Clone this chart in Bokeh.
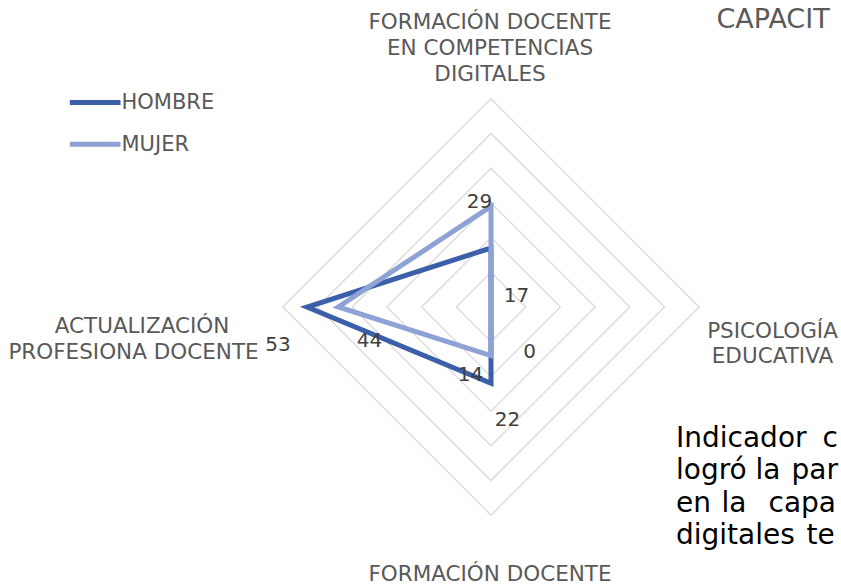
import math
from bokeh.plotting import figure
from bokeh.models import ColumnDataSource, Range1d
from bokeh.core.properties import value
from bokeh.embed import file_html
from bokeh.resources import INLINE

# ---------------- data ----------------
categories = [
    "FORMACIÓN DOCENTE EN COMPETENCIAS DIGITALES",
    "PSICOLOGÍA EDUCATIVA",
    "FORMACIÓN DOCENTE",
    "ACTUALIZACIÓN PROFESIONA DOCENTE",
]
category_label_lines = [
    ["FORMACIÓN DOCENTE", "EN COMPETENCIAS", "DIGITALES"],
    ["PSICOLOGÍA", "EDUCATIVA"],
    ["FORMACIÓN DOCENTE"],
    ["ACTUALIZACIÓN", "PROFESIONA DOCENTE"],
]
series_names = ["HOMBRE", "MUJER"]
hombre = [17, 0, 22, 53]
mujer = [29, 0, 14, 44]
ring_values = [10, 20, 30, 40, 50, 60]
title_text = "CAPACIT"
body_lines = [
    ["Indicador", "c"],
    ["logró", "la", "par"],
    ["en", "la", "capa"],
    ["digitales", "te"],
]

# ---------------- layout / style ----------------
W, H = 841, 586
PAGE = 0
CX, CY = 490.5, 306.5        # centre of radar in page pixels
S = 3.47                     # pixels per unit
FONT = "DejaVu Sans"
COL_H = "#3C5FA9"
COL_M = "#8FA2D6"
GRID = "#D9D9D9"
AXIS_TXT = "#595959"
LBL_TXT = "#404040"
K = 0.32                     # baseline correction (fraction of font size)


def d(X, Y, fs=0.0):
    return ((X - CX) / S, (CY - (Y - K * fs)) / S)


p = figure(width=W, height=H,
           x_range=Range1d((PAGE - CX) / S, (PAGE + W - CX) / S),
           y_range=Range1d((CY - PAGE - H) / S, (CY - PAGE) / S),
           output_backend="svg", toolbar_location=None, min_border=0,
           x_axis_location=None, y_axis_location=None)
p.grid.visible = False
p.outline_line_color = None
p.background_fill_color = "white"
p.border_fill_color = "white"

n = len(categories)
angles = [math.radians(90 - i * 360.0 / n) for i in range(n)]

# grid rings
xs, ys = [], []
for r in ring_values:
    xs.append([r * math.cos(a) for a in angles])
    ys.append([r * math.sin(a) for a in angles])
p.patches(xs, ys, fill_color=None, line_color=GRID, line_width=1.3, line_join="miter")

# series
series = {"HOMBRE": (hombre, COL_H), "MUJER": (mujer, COL_M)}
pts = {}
for name in series_names:
    vals, col = series[name]
    px_ = [v * math.cos(a) for v, a in zip(vals, angles)]
    py_ = [v * math.sin(a) for v, a in zip(vals, angles)]
    pts[name] = (px_, py_)
    p.patch(px_, py_, fill_color=None, line_color=col, line_width=5, line_join="miter")

# data labels (offsets in screen px from the data point to label baseline-centre)
LBL_FS = 20
label_offsets = {
    ("HOMBRE", 0): (25.5, 53.2), ("HOMBRE", 1): (38.5, 50.2),
    ("HOMBRE", 2): (16.5, 42.2), ("HOMBRE", 3): (-29.1, 43.5),
    ("MUJER", 0): (-11.5, 0.8), ("MUJER", 2): (-20.5, 24.9),
    ("MUJER", 3): (31.2, 39.5),
}
lx, ly, lt, ldx, ldy = [], [], [], [], []
for name in series_names:
    vals = series[name][0]
    for i, v in enumerate(vals):
        if (name, i) not in label_offsets:
            continue
        ox, oy = label_offsets[(name, i)]
        lx.append(pts[name][0][i]); ly.append(pts[name][1][i])
        lt.append(str(v)); ldx.append(ox); ldy.append(oy - K * LBL_FS)
p.text(x="x", y="y", text="t", x_offset="dx", y_offset="dy",
       source=ColumnDataSource(dict(x=lx, y=ly, t=lt, dx=ldx, dy=ldy)),
       text_font=value(FONT), text_font_size=f"{LBL_FS}px", text_color=LBL_TXT,
       text_align="center", text_baseline="alphabetic")

# category labels
CAT_FS = 21.5
cat_pos = [
    [(489.5, 27.5), (489.5, 53.5), (489.5, 79.5)],
    [(772, 337), (772, 362)],
    [(489.5, 580)],
    [(141.5, 332), (133, 358)],
]
cx_, cy_, ct_ = [], [], []
for lines, poss in zip(category_label_lines, cat_pos):
    for t, (X, Y) in zip(lines, poss):
        x, y = d(X, Y, CAT_FS)
        cx_.append(x); cy_.append(y); ct_.append(t)
p.text(x=cx_, y=cy_, text=ct_, text_font=value(FONT), text_font_size=f"{CAT_FS}px",
       text_color=AXIS_TXT, text_align="center", text_baseline="alphabetic")

# legend (manual, Excel style)
LEG_FS = 21
leg_y = [102, 143.7]
leg_base = [108.5, 150.5]
for name, yl, yb in zip(series_names, leg_y, leg_base):
    x0, y0 = d(69.3, yl)
    x1, _ = d(120, yl)
    p.line([x0, x1], [y0, y0], line_color=series[name][1], line_width=5)
    tx, ty = d(121, yb, LEG_FS)
    p.text(x=[tx], y=[ty], text=[name], text_font=value(FONT), text_font_size=f"{LEG_FS}px",
           text_color=AXIS_TXT, text_align="left", text_baseline="alphabetic")

# title (cropped in reference)
TTL_FS = 27
tx, ty = d(716, 27, TTL_FS)
p.text(x=[tx], y=[ty], text=[title_text], text_font=value(FONT), text_font_size=f"{TTL_FS}px",
       text_color=AXIS_TXT, text_align="left", text_baseline="alphabetic")

# body text beside the chart (cropped in reference)
BODY_FS = 28
word_x = [[675.5, 822], [675.5, 755, 791], [675.5, 721, 768], [675.5, 806]]
base_y = [446, 478.3, 510.7, 543.3]
bx, by, bt = [], [], []
for words, xs_, Y in zip(body_lines, word_x, base_y):
    for w, X in zip(words, xs_):
        x, y = d(X, Y, BODY_FS)
        bx.append(x); by.append(y); bt.append(w)
p.text(x=bx, y=by, text=bt, text_font=value(FONT), text_font_size=f"{BODY_FS}px",
       text_color="#000000", text_align="left", text_baseline="alphabetic")

open("out.html", "w").write(file_html(p, INLINE))
